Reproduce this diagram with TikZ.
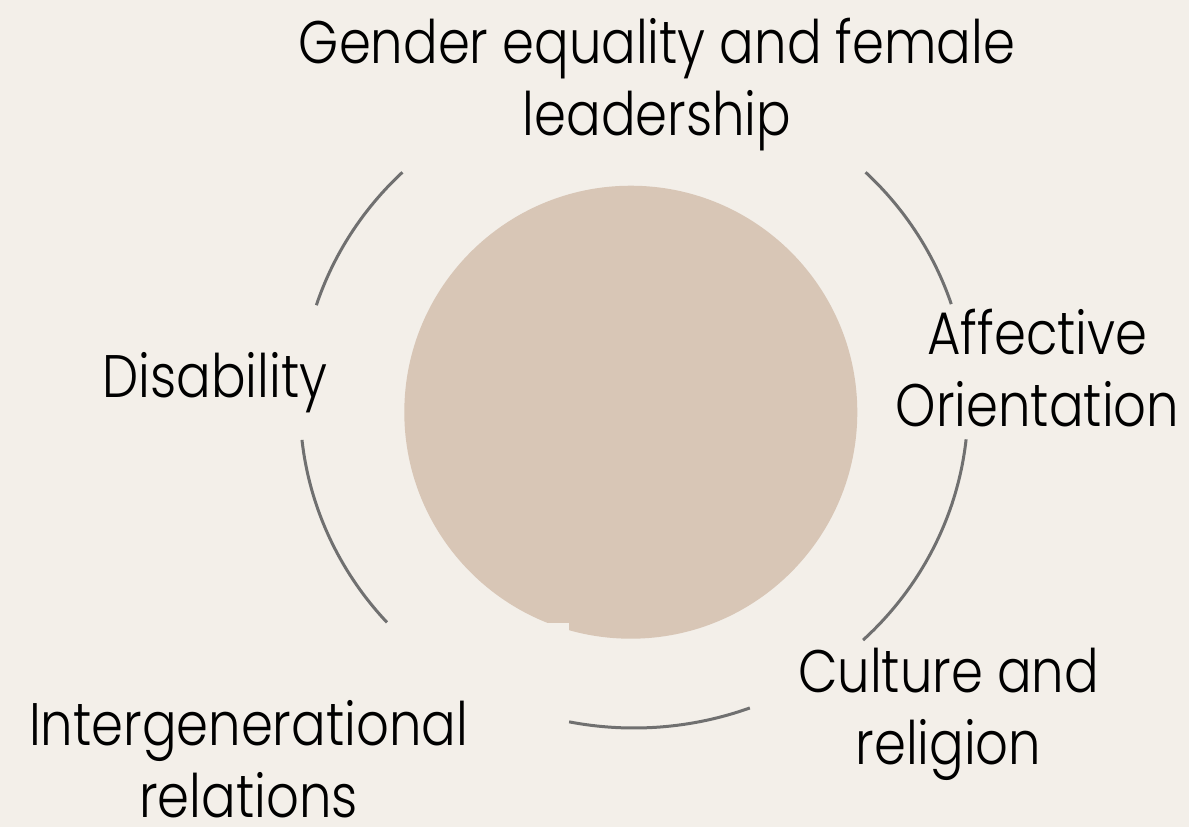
\documentclass[tikz,border=0pt]{standalone}
\usepackage{fontspec}
\IfFontExistsTF{Poppins Light}{\setmainfont{Poppins Light}[FakeStretch=0.855]}{\setmainfont{Poppins}[FakeStretch=0.855]}
\definecolor{bg}{HTML}{F3EFE9}
\definecolor{hubc}{HTML}{D8C6B6}
\definecolor{arcc}{HTML}{707070}
\tikzset{
  label/.style={inner sep=0pt, anchor=base, font=\fontsize{30}{36}\selectfont, text=black},
  ring/.style={draw=arcc, line width=1.5pt},
}
\newcommand{\lines}[1]{{\setlength{\tabcolsep}{0pt}\begin{tabular}[t]{c}#1\end{tabular}}}
\begin{document}
\begin{tikzpicture}[x=0.5pt, y=-0.5pt]
\useasboundingbox (0,0) rectangle (1189,827);
\fill[bg] (0,0) rectangle (1189,827);
% central disc
\node[circle, fill=hubc, minimum size=226.5pt, inner sep=0pt] (hub) at (630.8,412.2) {};
\fill[bg] (530,622.7) rectangle (569,650);
% ring arcs (ellipse centre (634,405), radii 334 x 323 px)
\coordinate (o) at (634,405);
\draw[ring] ([shift={(133.9:167pt and 161.5pt)}]o) arc[start angle=133.9, end angle=162.0, x radius=167pt, y radius=161.5pt];
\draw[ring] ([shift={(186.2:167pt and 161.5pt)}]o) arc[start angle=186.2, end angle=222.3, x radius=167pt, y radius=161.5pt];
\draw[ring] ([shift={(258.8:167pt and 161.5pt)}]o) arc[start angle=258.8, end angle=290.3, x radius=167pt, y radius=161.5pt];
\draw[ring] ([shift={(313.3:167pt and 161.5pt)}]o) arc[start angle=313.3, end angle=353.9, x radius=167pt, y radius=161.5pt];
\draw[ring] ([shift={(18.2:167pt and 161.5pt)}]o) arc[start angle=18.2, end angle=46.1, x radius=167pt, y radius=161.5pt];
% labels
\node[label] (gender) at (657,63) {\lines{Gender equality and female\\ leadership}};
\node[label] (affective) at (1037.5,354) {\lines{Affective\\ Orientation}};
\node[label] (disability) at (215,397) {\lines{Disability}};
\node[label] (inter) at (248.5,745) {\lines{Intergenerational\\ relations}};
\node[label] (culture) at (948.5,692) {\lines{Culture and\\ religion}};
\end{tikzpicture}
\end{document}
